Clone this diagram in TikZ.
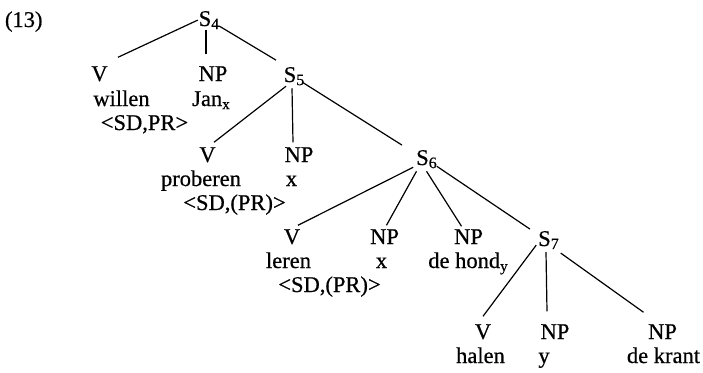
\documentclass[tikz,border=0pt]{standalone}
\usepackage{fontspec}
\setmainfont[FakeBold=0.6]{Liberation Serif}
\newcommand\lowsub[1]{\raisebox{-0.3ex}{\fontsize{16}{16}\selectfont #1}}
\newcommand\smallsub[1]{\raisebox{-0.3ex}{\fontsize{15}{15}\selectfont #1}}
\begin{document}
\fontsize{22.5}{25}\selectfont
\begin{tikzpicture}[x=1pt,y=-1pt,
  lbl/.style={anchor=base,inner sep=0pt,outer sep=0pt},
  edge/.style={line width=1.2pt,black},
  ]
\useasboundingbox (0,0) rectangle (703,372);
% example number
\node[lbl,anchor=base west] (num) at (5,27) {(13)};
% S4 level
\node[lbl] (s4) at (209,26) {S\lowsub{4}};
\node[lbl] (v1) at (99.5,81) {V};
\node[lbl] (np1) at (213,81) {NP};
\node[lbl] (s5) at (294,82) {S\lowsub{5}};
\node[lbl] (w1) at (121.5,106) {willen};
\node[lbl] (w2) at (211,106) {Jan\smallsub{x}};
\node[lbl] (f1) at (144.5,130) {<SD,PR>};
% S5 level
\node[lbl] (v2) at (207.5,162) {V};
\node[lbl] (np2) at (299,162) {NP};
\node[lbl] (s6) at (426.5,165) {S\lowsub{6}};
\node[lbl] (w3) at (201,186) {proberen};
\node[lbl] (w4) at (291.5,186) {x};
\node[lbl] (f2) at (234.5,210) {<SD,(PR)>};
% S6 level
\node[lbl] (v3) at (292,244) {V};
\node[lbl] (np3) at (384.5,244) {NP};
\node[lbl] (np4) at (468.5,244) {NP};
\node[lbl] (s7) at (548.5,246) {S\lowsub{7}};
\node[lbl] (w5) at (288.5,268) {leren};
\node[lbl] (w6) at (381.5,268) {x};
\node[lbl] (w7) at (468,268) {de hond\smallsub{y}};
\node[lbl] (f3) at (329.5,292) {<SD,(PR)>};
% S7 level
\node[lbl] (v4) at (483,339) {V};
\node[lbl] (np5) at (555,339) {NP};
\node[lbl] (np6) at (662.5,339) {NP};
\node[lbl] (w8) at (480.5,363) {halen};
\node[lbl] (w9) at (544,363) {y};
\node[lbl] (w10) at (663.5,363) {de krant};
% branches (shifts are in page direction: positive yshift is upwards)
\draw[edge] ([xshift=-1pt]s4.west) -- ([xshift=18.5pt,yshift=9pt]v1.north);
\draw[edge] ([xshift=-3pt,yshift=-1pt]s4.south) -- ([xshift=-7pt,yshift=12pt]np1.north);
\draw[edge] ([yshift=-6pt]s4.east) -- ([xshift=-18pt,yshift=7pt]s5.north);
\draw[edge] ([xshift=-8pt,yshift=-1pt]s5.south) -- ([xshift=6.5pt,yshift=5pt]v2.north);
\draw[edge] ([xshift=-2pt,yshift=-3pt]s5.south) -- ([xshift=-6pt,yshift=5pt]np2.north);
\draw[edge] ([xshift=-2pt,yshift=-6pt]s5.east) -- ([xshift=-24.5pt,yshift=5pt]s6.north);
\draw[edge] ([xshift=-3pt,yshift=1pt]s6.south west) -- ([xshift=6pt,yshift=4pt]v3.north);
\draw[edge] ([xshift=-10pt,yshift=-3pt]s6.south) -- ([xshift=2pt,yshift=4pt]np3.north);
\draw[edge] ([yshift=-3pt]s6.south) -- ([xshift=-7pt,yshift=3pt]np4.north);
\draw[edge] ([yshift=2pt]s6.south east) -- ([xshift=-18.5pt,yshift=2pt]s7.north);
\draw[edge] ([xshift=-2pt,yshift=-5pt]s7.west) -- ([yshift=8pt]v4.north);
\draw[edge] ([xshift=-2.5pt,yshift=-3pt]s7.south) -- ([xshift=-8pt,yshift=13pt]np5.north);
\draw[edge] ([xshift=2pt,yshift=-4pt]s7.south east) -- ([xshift=-19pt,yshift=12pt]np6.north);
\end{tikzpicture}
\end{document}
